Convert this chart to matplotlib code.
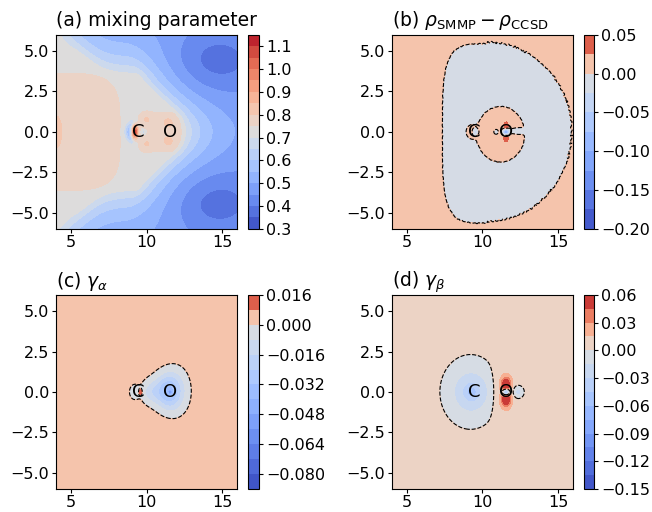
import numpy as np
import matplotlib
matplotlib.use("Agg")
import matplotlib.pyplot as plt
from matplotlib.colors import TwoSlopeNorm, Normalize

plt.rcParams["font.size"] = 11.5
plt.rcParams["xtick.major.pad"] = 1.5
plt.rcParams["ytick.major.pad"] = 2.0
plt.rcParams["xtick.major.size"] = 3.0
plt.rcParams["ytick.major.size"] = 3.0

# grid (bohr)
x = np.linspace(4.0, 16.0, 361)
y = np.linspace(-6.0, 6.0, 361)
X, Y = np.meshgrid(x, y)

# atom positions on the molecular axis
atom_labels = ["C", "O"]
atom_x = [9.44, 11.56]
xC, xO = atom_x

# contour levels and colorbar ticks per panel
levels_a = np.round(np.arange(0.30, 1.151, 0.05), 3)
levels_b = np.round(np.arange(-0.200, 0.0501, 0.025), 4)
levels_c = np.round(np.arange(-0.088, 0.0161, 0.008), 4)
levels_d = np.round(np.arange(-0.150, 0.0601, 0.015), 4)
ticks_a = [0.3, 0.4, 0.5, 0.6, 0.7, 0.8, 0.9, 1.0, 1.1]
ticks_b = [-0.20, -0.15, -0.10, -0.05, 0.00, 0.05]
ticks_c = [-0.080, -0.064, -0.048, -0.032, -0.016, 0.000, 0.016]
ticks_d = [-0.15, -0.12, -0.09, -0.06, -0.03, 0.00, 0.03, 0.06]
fmt_a, fmt_b, fmt_c, fmt_d = "%.1f", "%.2f", "%.3f", "%.2f"

titles = ["(a) mixing parameter",
          r"(b) $\rho_{\mathrm{SMMP}} - \rho_{\mathrm{CCSD}}$",
          r"(c) $\gamma_\alpha$",
          r"(d) $\gamma_\beta$"]


def g(x0, y0, sx, sy=None):
    sy = sx if sy is None else sy
    return np.exp(-0.5 * (((X - x0) / sx) ** 2 + ((Y - y0) / sy) ** 2))


def sig(z):
    return 1.0 / (1.0 + np.exp(-np.clip(z, -60, 60)))


# (a) mixing parameter: decays with distance from an inner region
x_edge = 8.3 + 4.0 * np.exp(-(Y / 3.0) ** 2)
y_edge = 3.4 + 2.0 * sig((6.0 - X) / 0.7)
D = np.hypot(np.clip(X - x_edge, 0, None), np.clip(np.abs(Y) - y_edge, 0, None))
drop = 0.27 * (1.0 - np.exp(-D / 1.9))
L_left = ((X - 3.8) / 4.4) ** 4 + (Y / 3.6) ** 4
rC = np.hypot(X - 9.5, Y) + 1e-9
crescent = np.exp(-(rC - 0.72) ** 2 / (2 * 0.17 ** 2)) * np.clip(-(X - 9.5) / rC, 0, 1) ** 1.5
Za = (0.728 - drop
      + 0.05 * sig((1 - L_left) / 0.15)
      + 0.04 * g(4.0, 0.0, 0.35, 0.9)
      + 0.06 * (g(4.0, 6.0, 0.6, 0.5) + g(4.0, -6.0, 0.6, 0.5))
      - 0.09 * (g(14.6, 4.4, 2.0, 1.3) + g(14.6, -4.4, 2.0, 1.3))
      + 0.05 * np.exp(-(((X - 10.9) / 1.45) ** 4 + (Y / 1.25) ** 4))
      + 0.04 * (g(9.95, 0.8, 0.28) + g(9.95, -0.8, 0.28)
                + g(11.45, 0.6, 0.28) + g(11.45, -0.6, 0.28))
      + 0.33 * g(9.22, 0.0, 0.13, 0.28)
      - 0.15 * crescent
      - 0.08 * g(9.82, 0.0, 0.15))

# (b) density difference; the outer zero line is ragged
xc_b, b_b = 10.3, 5.55
ripple = 0.025 * np.sin(23.0 * X + 5.0 * Y) * np.sin(19.0 * Y - 3.0 * X)
L_egg = np.where(X > xc_b,
                 ((X - xc_b) / 5.6) ** 2 + (Y / b_b) ** 2,
                 (np.abs(X - xc_b) / 2.95) ** 4 + (np.abs(Y + 0.1) / b_b) ** 4) + ripple
L_in = ((X - 11.2) / 1.6) ** 2 + ((Y + 0.15) / 1.72) ** 2 + ripple
Zb = (0.01
      - 0.02 * sig((1 - L_egg) / 0.05)
      + 0.02 * sig((1 - L_in) / 0.08)
      - 0.03 * g(12.45, 0.05, 0.45, 0.14)
      - 0.03 * g(10.9, 0.0, 0.1)
      + 0.035 * g(xC - 0.05, 0.0, 0.3)
      - 0.06 * g(xC + 0.1, 0.0, 0.17)
      + 0.035 * (g(xO, 0.35, 0.12, 0.2) + g(xO, -0.35, 0.12, 0.2))
      - 0.13 * g(xO, 0.0, 0.14))

# (c) gamma alpha
sy_c = 0.78 * (1.0 + 0.12 * (X - 11.45))
Zc = (0.004
      - 0.04 * np.exp(-0.5 * (((X - 11.45) / 0.7) ** 2 + ((Y - 0.05) / sy_c) ** 2))
      - 0.01 * g(10.15, 0.0, 0.4, 0.5)
      - 0.03 * g(xO, 0.0, 0.08)
      - 0.012 * g(xC - 0.25, 0.0, 0.22, 0.3)
      + 0.02 * g(xC + 0.14, 0.0, 0.07, 0.12))

# (d) gamma beta
rCd = np.hypot(X - 9.3, Y)
Zd = (0.0075
      - 0.025 * g(9.2, 0.0, 1.25, 1.45) * sig((10.72 - X) / 0.12)
      - 0.05 * np.exp(-rCd / 0.5)
      + 0.055 * (g(xO, 0.42, 0.2, 0.3) + g(xO, -0.42, 0.2, 0.3))
      + 0.02 * g(xO, 0.0, 0.3, 0.7)
      - 0.12 * g(xO, 0.0, 0.17)
      - 0.03 * g(12.35, 0.0, 0.25))

panels = [
    (Za, levels_a, Normalize(levels_a[0], levels_a[-1]), ticks_a, fmt_a, False),
    (Zb, levels_b, TwoSlopeNorm(0.0, levels_b[0], levels_b[-1]), ticks_b, fmt_b, True),
    (Zc, levels_c, TwoSlopeNorm(0.0, levels_c[0], levels_c[-1]), ticks_c, fmt_c, True),
    (Zd, levels_d, TwoSlopeNorm(0.0, levels_d[0], levels_d[-1]), ticks_d, fmt_d, True),
]

fig = plt.figure(figsize=(6.52, 5.12), dpi=100)
ax_rects = [(0.086, 0.553, 0.278, 0.379), (0.601, 0.553, 0.278, 0.379),
            (0.086, 0.045, 0.278, 0.379), (0.601, 0.045, 0.278, 0.379)]
cax_rects = [(0.381, 0.553, 0.016, 0.379), (0.895, 0.553, 0.016, 0.379),
             (0.381, 0.045, 0.016, 0.379), (0.895, 0.045, 0.016, 0.379)]

for i, (Z, lev, norm, ticks, fmt, zero_line) in enumerate(panels):
    ax = fig.add_axes(ax_rects[i])
    Zp = np.clip(Z, lev[0] + 1e-6, lev[-1] - 1e-6)
    cf = ax.contourf(X, Y, Zp, levels=lev, cmap="coolwarm", norm=norm)
    if zero_line:
        ax.contour(X, Y, Z, levels=[0.0], colors="k", linestyles="--", linewidths=0.8)
    for lab, xa in zip(atom_labels, atom_x):
        ax.text(xa, 0.0, lab, ha="center", va="center", fontsize=13)
    ax.set_xlim(4, 16)
    ax.set_ylim(-6, 6)
    ax.set_xticks([5, 10, 15])
    ax.set_yticks([-5.0, -2.5, 0.0, 2.5, 5.0])
    ax.set_yticklabels(["\u22125.0", "\u22122.5", "0.0", "2.5", "5.0"])
    ax.set_title(titles[i], loc="left", fontsize=13.5)
    cax = fig.add_axes(cax_rects[i])
    cb = fig.colorbar(cf, cax=cax)
    cb.set_ticks(ticks)
    cb.set_ticklabels([(fmt % t).replace("-", "\u2212") for t in ticks])

fig.savefig("out.png", dpi=100)
